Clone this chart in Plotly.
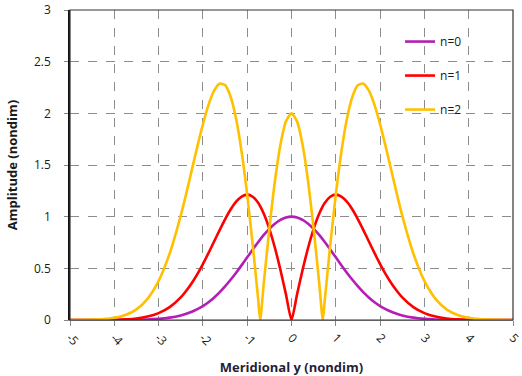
import plotly.graph_objects as go

# Meridional coordinate samples (nondim), non-negative half (curves are symmetric)
y_pos = [0.0, 0.125, 0.25, 0.375, 0.5, 0.625, 0.75, 0.875, 1.0, 1.125, 1.25, 1.375,
         1.5, 1.625, 1.75, 1.875, 2.0, 2.125, 2.25, 2.375, 2.5, 2.75,
         3.0, 3.25, 3.5, 3.75, 4.0, 4.25, 4.5, 4.75, 5.0]

# Amplitudes
amp_n0 = [1.0, 0.992, 0.969, 0.932, 0.8825, 0.823, 0.755, 0.682, 0.6065, 0.531, 0.458, 0.389,
          0.325, 0.267, 0.216, 0.172, 0.135, 0.105, 0.080, 0.060, 0.044, 0.023,
          0.011, 0.005, 0.0022, 0.0009, 0.0003, 0.0001, 0.0, 0.0, 0.0]
amp_n1 = [0.0, 0.248, 0.485, 0.699, 0.8825, 1.028, 1.132, 1.193, 1.213, 1.195, 1.145, 1.069,
          0.974, 0.868, 0.757, 0.647, 0.541, 0.444, 0.358, 0.283, 0.219, 0.125,
          0.067, 0.033, 0.015, 0.0066, 0.0027, 0.001, 0.0004, 0.0001, 0.0]
# n=2 also includes its zero near y = 0.707
y_pos2 = [0.0, 0.125, 0.25, 0.375, 0.5, 0.625, 0.707, 0.75, 0.875, 1.0, 1.125, 1.25, 1.375,
          1.5, 1.625, 1.75, 1.875, 2.0, 2.125, 2.25, 2.375, 2.5, 2.75,
          3.0, 3.25, 3.5, 3.75, 4.0, 4.25, 4.5, 4.75, 5.0]
amp_n2 = [2.0, 1.922, 1.696, 1.340, 0.8825, 0.360, 0.0, 0.189, 0.7245, 1.213, 1.626, 1.946, 2.161,
          2.273, 2.287, 2.217, 2.080, 1.894, 1.680, 1.453, 1.225, 1.010, 0.644,
          0.378, 0.205, 0.103, 0.048, 0.021, 0.0084, 0.0032, 0.0011, 0.0004]

x_ticks = [-5, -4, -3, -2, -1, 0, 1, 2, 3, 4, 5]
y_ticks = [0, 0.5, 1, 1.5, 2, 2.5, 3]


def mirror(xs, vs):
    xx = [-x for x in reversed(xs[1:])] + list(xs)
    vv = list(reversed(vs[1:])) + list(vs)
    return xx, vv


series = [
    ("n=0", y_pos, amp_n0, "#B41EB4"),
    ("n=1", y_pos, amp_n1, "#FF0000"),
    ("n=2", y_pos2, amp_n2, "#FFC000"),
]

fig = go.Figure()
for name, xs, vs, col in series:
    xx, vv = mirror(xs, vs)
    fig.add_trace(go.Scatter(
        x=xx, y=vv, name=name, mode="lines", legendgroup=name,
        line=dict(color=col, width=2.6, shape="spline", smoothing=0.6),
    ))

font_family = "Open Sans, Liberation Sans, Arial, sans-serif"
fig.update_layout(
    width=522, height=376,
    margin=dict(l=70, r=9, t=10, b=56),
    paper_bgcolor="white", plot_bgcolor="white",
    font=dict(family=font_family, size=12, color="#1a1a1a"),
    showlegend=True,
    legend=dict(x=0.745, y=0.945, xanchor="left", yanchor="top",
                bgcolor="rgba(0,0,0,0)", tracegroupgap=15,
                font=dict(size=12, color="#1a1a1a")),
    xaxis=dict(
        range=[-5, 5], tickvals=x_ticks, ticktext=[str(t) for t in x_ticks],
        tickangle=45, ticks="outside", ticklen=5, tickcolor="#888888",
        ticklabeloverflow="allow", automargin=False,
        showgrid=True, gridcolor="#8c8c8c", griddash="dash", gridwidth=1,
        showline=True, linecolor="#8c8c8c", linewidth=1, mirror=False,
        zeroline=False,
        title=dict(text="<b>Meridional y (nondim)</b>", standoff=14,
                   font=dict(size=13, color="#1f1f3a")),
    ),
    yaxis=dict(
        range=[0, 3], tickvals=y_ticks, ticktext=["0", "0.5", "1", "1.5", "2", "2.5", "3"],
        ticks="outside", ticklen=4, tickcolor="#888888", ticklabelstandoff=11,
        showgrid=True, gridcolor="#8c8c8c", griddash="dash", gridwidth=1,
        showline=True, linecolor="#111111", linewidth=1.5,
        zeroline=False, automargin=False,
        title=dict(text="<b>Amplitude (nondim)</b>", standoff=13,
                   font=dict(size=13, color="#1a1a1a")),
    ),
)
# frame at top and right
fig.add_shape(type="rect", xref="paper", yref="paper", x0=0, x1=1, y0=0, y1=1,
              line=dict(color="#333333", width=1.2), layer="above")

fig.write_html("out.html")
